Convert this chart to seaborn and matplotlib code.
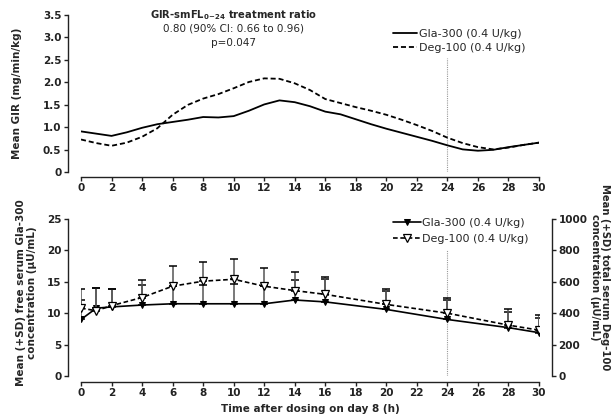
import matplotlib
matplotlib.use("Agg")
import matplotlib.pyplot as plt
import seaborn as sns
import pandas as pd
import numpy as np

# ---------------- data ----------------
gir_hours = list(range(31))
gir_gla = [0.91, 0.86, 0.81, 0.89, 0.99, 1.07, 1.12, 1.17, 1.23, 1.22, 1.25, 1.37,
           1.51, 1.60, 1.56, 1.47, 1.35, 1.29, 1.18, 1.07, 0.97, 0.88, 0.79, 0.70,
           0.60, 0.51, 0.48, 0.50, 0.56, 0.61, 0.66]
gir_deg = [0.73, 0.65, 0.59, 0.66, 0.79, 0.98, 1.28, 1.50, 1.64, 1.74, 1.87, 2.01,
           2.09, 2.08, 1.98, 1.83, 1.63, 1.54, 1.45, 1.37, 1.28, 1.17, 1.05, 0.92,
           0.77, 0.65, 0.56, 0.51, 0.55, 0.61, 0.66]

pk_hours = [0, 1, 2, 4, 6, 8, 10, 12, 14, 16, 20, 24, 28, 30]
gla_conc = [9.0, 10.8, 11.0, 11.3, 11.5, 11.5, 11.5, 11.5, 12.1, 11.8, 10.6, 9.0, 7.7, 6.9]
gla_sd = [3.1, 3.2, 2.8, 3.2, 2.9, 3.0, 3.2, 2.8, 3.2, 3.7, 2.9, 3.1, 2.5, 2.3]
deg_conc = [432, 416, 448, 500, 572, 604, 616, 572, 544, 520, 456, 400, 324, 292]
deg_sd = [122, 146, 106, 112, 128, 124, 132, 116, 116, 108, 98, 100, 100, 96]

label_gla = "Gla-300 (0.4 U/kg)"
label_deg = "Deg-100 (0.4 U/kg)"
x_ticks = list(range(0, 31, 2))
gir_ticks = [0, 0.5, 1.0, 1.5, 2.0, 2.5, 3.0, 3.5]
gir_ticklabels = ["0", "0.5", "1.0", "1.5", "2.0", "2.5", "3.0", "3.5"]
gla_ticks = [0, 5, 10, 15, 20, 25]
deg_ticks = [0, 200, 400, 600, 800, 1000]

# ---------------- style ----------------
sns.set_theme(style="ticks")
plt.rcParams["font.family"] = ["DejaVu Sans"]
plt.rcParams.update({
    "axes.linewidth": 1.0,
    "axes.edgecolor": "#222222",
    "xtick.major.size": 3.2,
    "ytick.major.size": 3.2,
    "xtick.major.width": 1.0,
    "ytick.major.width": 1.0,
    "xtick.color": "#222222",
    "ytick.color": "#222222",
    "font.size": 7.5,
    "mathtext.fontset": "dejavusans",
})
FS = 7.5
LFS = 8

fig = plt.figure(figsize=(6.14, 4.18), dpi=100)
ax1 = fig.add_axes([81 / 614, 1 - 172.3 / 418, 458 / 614, 157.3 / 418])
ax2 = fig.add_axes([81 / 614, 1 - 376 / 418, 458 / 614, 157 / 418])
ax3 = ax2.twinx()

# ---------------- top panel: GIR ----------------
df_gir = pd.DataFrame({"h": gir_hours * 2,
                       "gir": gir_gla + gir_deg,
                       "trt": [label_gla] * 31 + [label_deg] * 31})
sns.lineplot(data=df_gir[df_gir.trt == label_gla], x="h", y="gir", color="black",
             lw=1.3, ax=ax1, label=label_gla)
sns.lineplot(data=df_gir[df_gir.trt == label_deg], x="h", y="gir", color="black",
             lw=1.3, ls=(0, (2.8, 1.6)), ax=ax1, label=label_deg)
ax1.plot([24, 24], [0, 2.55], ls=(0, (1, 1)), color="#999999", lw=0.8, zorder=1)

ax1.set_xlim(0, 30)
ax1.set_ylim(0, 3.5)
ax1.set_xticks(x_ticks)
ax1.set_yticks(gir_ticks)
ax1.set_xlabel("")
ax1.set_ylabel("Mean GIR (mg/min/kg)", fontsize=FS, fontweight="bold")
ax1.yaxis.set_label_coords(-0.128, 0.5)
ax1.tick_params(axis="both", labelsize=FS, pad=1.5)
sns.despine(ax=ax1, offset={"left": 9.4, "bottom": 3.2}, trim=True)
ax1.set_yticks(gir_ticks)
ax1.set_yticklabels(gir_ticklabels)

ax1.legend(frameon=False, loc="upper left", bbox_to_anchor=(0.681, 0.912),
           borderaxespad=0, borderpad=0, handlelength=2.2, handletextpad=0.15,
           labelspacing=0.4, fontsize=LFS)

ax1.text(10.0, 3.5, r"GIR-smFL$_{\mathbf{0\!-\!24}}$ treatment ratio", ha="center",
         va="center", fontsize=FS - 0.3, fontweight="bold")
ax1.text(10.0, 3.19, "0.80 (90% CI: 0.66 to 0.96)", ha="center", va="center", fontsize=FS)
ax1.text(10.0, 2.88, "p=0.047", ha="center", va="center", fontsize=FS)

# ---------------- bottom panel: concentrations ----------------
df_pk = pd.DataFrame({"h": pk_hours, "gla": gla_conc, "gla_sd": gla_sd,
                      "deg": deg_conc, "deg_sd": deg_sd})

eb = ax2.errorbar(df_pk.h, df_pk.gla, yerr=[np.zeros(len(df_pk)), df_pk.gla_sd],
                  fmt="none", ecolor="#555555", elinewidth=1.1, capsize=2.8,
                  capthick=1.1, zorder=2)
for c in eb[1]:
    c.set_markeredgecolor("black")
sns.lineplot(data=df_pk, x="h", y="gla", color="black", lw=1.2, marker="v",
             markersize=4.8, markeredgecolor="black", markerfacecolor="black",
             ax=ax2, label=label_gla, zorder=3)
ax2.plot([24, 24], [0, 20], ls=(0, (1, 1)), color="#999999", lw=0.8, zorder=1)

eb2 = ax3.errorbar(df_pk.h, df_pk.deg, yerr=[np.zeros(len(df_pk)), df_pk.deg_sd],
                   fmt="none", ecolor="#555555", elinewidth=1.1, capsize=2.8,
                   capthick=1.1, zorder=2)
for c in eb2[1]:
    c.set_markeredgecolor("black")
sns.lineplot(data=df_pk, x="h", y="deg", color="black", lw=1.2, ls=(0, (2.8, 1.6)),
             marker="v", markersize=5.8, markeredgecolor="black",
             markerfacecolor="white", markeredgewidth=0.9, ax=ax3,
             label=label_deg, zorder=3)

ax2.set_xlim(0, 30)
ax2.set_ylim(0, 25)
ax2.set_xticks(x_ticks)
ax2.set_yticks(gla_ticks)
ax3.set_ylim(0, 1000)
ax3.set_yticks(deg_ticks)
ax3.set_xlim(0, 30)

ax2.set_xlabel("Time after dosing on day 8 (h)", fontsize=FS, fontweight="bold", labelpad=4)
ax2.set_ylabel("Mean (+SD) free serum Gla-300\nconcentration (\u00b5U/mL)",
               fontsize=FS, fontweight="bold", linespacing=1.15)
ax2.yaxis.set_label_coords(-0.095, 0.53)
ax3.set_ylabel("")
ax2.tick_params(axis="both", labelsize=FS, pad=1.5)
ax3.tick_params(axis="y", labelsize=FS, pad=1.5)

sns.despine(ax=ax2, offset={"left": 9.4, "bottom": 4.3}, trim=True)
for s in ["top", "left", "bottom"]:
    ax3.spines[s].set_visible(False)
ax3.spines["right"].set_position(("outward", 9.4))
ax3.spines["right"].set_bounds(0, 1000)

fig.text(600 / 614, 1 - 277 / 418,
         "Mean (+SD) total serum Deg-100\nconcentration (\u00b5U/mL)",
         rotation=270, ha="center", va="center", fontsize=FS - 0.3, fontweight="bold",
         linespacing=1.1, multialignment="center")

for a in (ax2, ax3):
    lg = a.get_legend()
    if lg is not None:
        lg.remove()
h1, l1 = ax2.get_legend_handles_labels()
h2, l2 = ax3.get_legend_handles_labels()
ax3.legend(h1 + h2, l1 + l2, frameon=False, loc="upper left",
           bbox_to_anchor=(0.681, 1.005), borderaxespad=0, borderpad=0,
           handlelength=2.5, handletextpad=0.15, labelspacing=0.5, fontsize=LFS)

# bold tick labels (after all tick changes)
for a in (ax1, ax2, ax3):
    for t in a.get_xticklabels() + a.get_yticklabels():
        t.set_fontweight("bold")

fig.savefig("out.png", dpi=100)
